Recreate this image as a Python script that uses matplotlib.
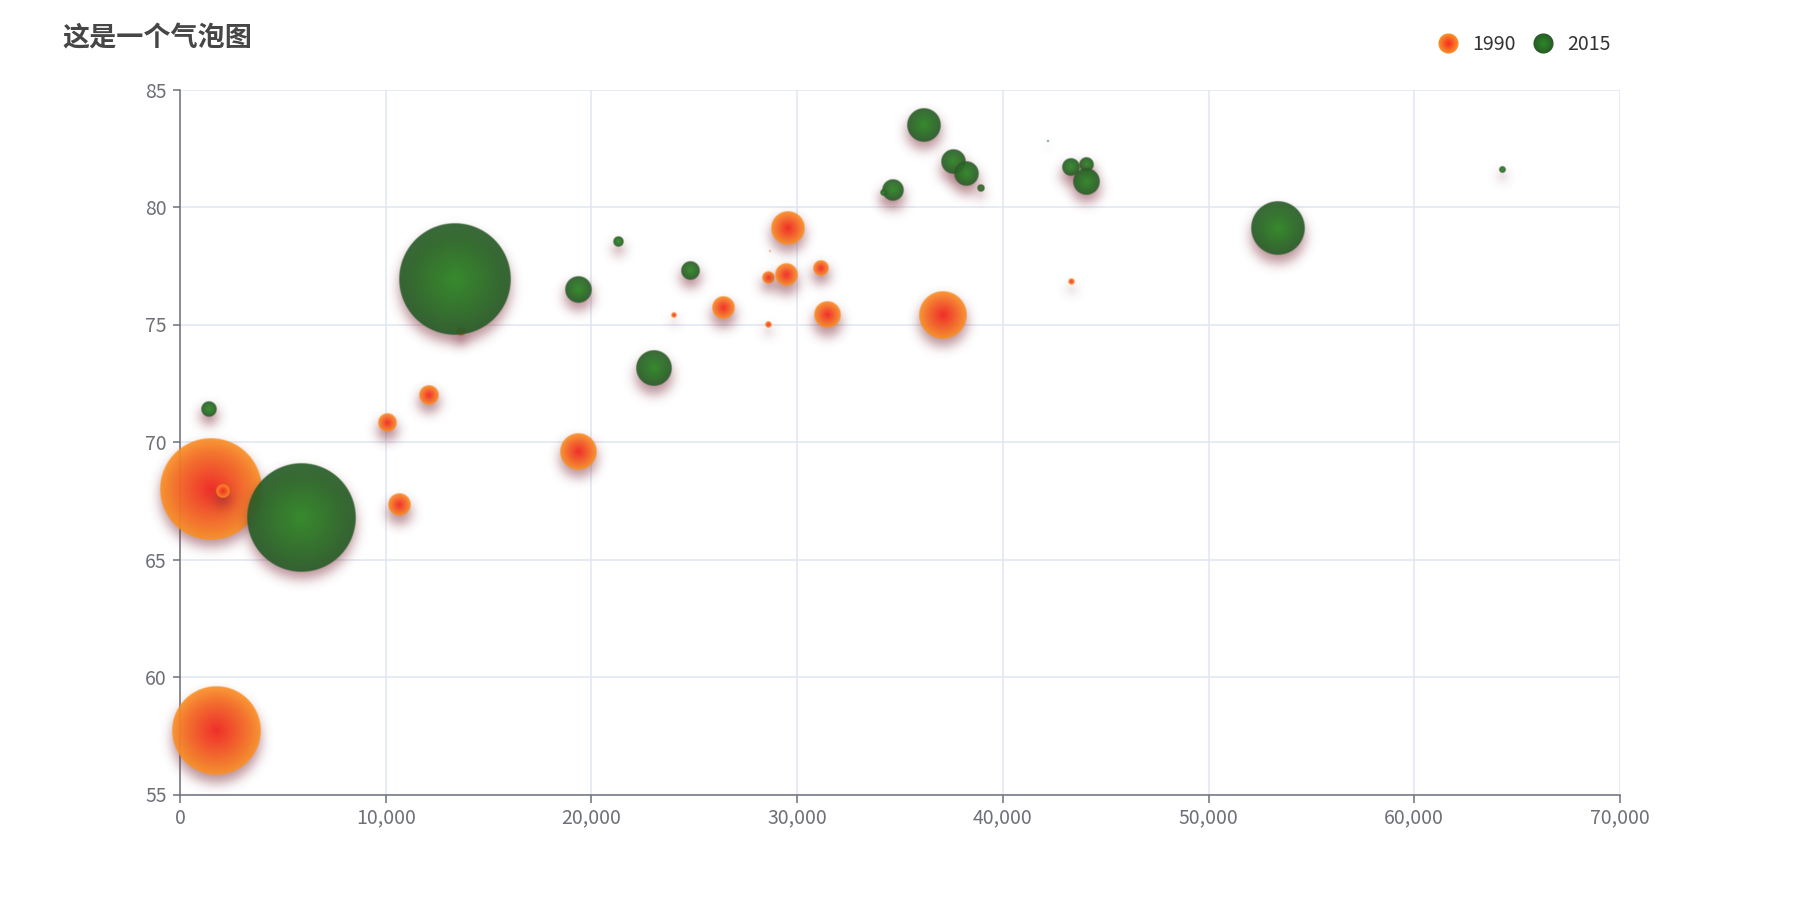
import math
import numpy as np
import matplotlib
matplotlib.use("Agg")
import matplotlib.pyplot as plt
from matplotlib.lines import Line2D
from matplotlib.legend_handler import HandlerBase
from matplotlib.ticker import FuncFormatter, MultipleLocator

plt.rcParams['font.family'] = ['Noto Sans CJK SC', 'DejaVu Sans']

# 数据: [GDP, 寿命, 人口]
countries = ['Australia', 'Canada', 'China', 'Cuba', 'Finland', 'France', 'Germany',
             'Iceland', 'India', 'Japan', 'North Korea', 'South Korea', 'New Zealand',
             'Norway', 'Poland', 'Russia', 'Turkey', 'United Kingdom', 'United States']
gdp_1990 = [28604, 31163, 1516, 13670, 28599, 29476, 31476, 28666, 1777, 29550,
            2076, 12087, 24021, 43296, 10088, 19349, 10670, 26424, 37062]
life_1990 = [77, 77.4, 68, 74.7, 75, 77.1, 75.4, 78.1, 57.7, 79.1,
             67.9, 72, 75.4, 76.8, 70.8, 69.6, 67.3, 75.7, 75.4]
pop_1990 = [17096869, 27662440, 1154605773, 10582082, 4986705, 56943299, 78958237,
            254830, 870601776, 122249285, 20194354, 42972254, 3397534, 4240375,
            38195258, 147568552, 53994605, 57110117, 252847810]
gdp_2015 = [44056, 43294, 13334, 21291, 38923, 37599, 44053, 42182, 5903, 36162,
            1390, 34644, 34186, 64304, 24787, 23038, 19360, 38225, 53354]
life_2015 = [81.8, 81.7, 76.9, 78.5, 80.8, 81.9, 81.1, 82.8, 66.8, 83.5,
             71.4, 80.7, 80.6, 81.6, 77.3, 73.13, 76.5, 81.4, 79.1]
pop_2015 = [23968973, 35939927, 1376048943, 11389562, 5503457, 64395345, 80688545,
            329425, 1311050527, 126573481, 25155317, 50293439, 4528526, 5210967,
            38611794, 143456918, 78665830, 64715810, 321773631]

series_names = ['1990', '2015']
# 渐变色 (中心, 边缘)
grad_1990 = ((0.96, 0.15, 0.13), (0.98, 0.57, 0.15))
grad_2015 = ((0.17, 0.54, 0.14), (0.16, 0.36, 0.16))
shadow_rgb = (120 / 255, 36 / 255, 50 / 255)

erf = np.vectorize(math.erf)


def draw_bubble(ax, x, y, pop, grad, z):
    R = math.sqrt(pop) / 5e2 * 1.5 / 2  # 半径(像素)
    px, py = ax.transData.transform((x, y))
    inv = ax.transData.inverted()

    # 阴影
    sig = 6.0
    sy = py - 7.5
    ext = R + 3 * sig + 2
    n = max(int(2 * ext), 31)
    g = np.linspace(-ext, ext, n)
    X, Y = np.meshgrid(g, g)
    r = np.hypot(X, Y)
    a = 0.5 * 0.5 * (1 + erf((R - r) / (sig * math.sqrt(2))))
    a *= min(1.0, (1 - math.exp(-(R + 0.8) ** 2 / (2 * sig ** 2))) / 0.6)
    img = np.zeros((n, n, 4))
    img[..., :3] = shadow_rgb
    img[..., 3] = a
    x0, y0 = inv.transform((px - ext, sy - ext))
    x1, y1 = inv.transform((px + ext, sy + ext))
    ax.imshow(img, extent=(x0, x1, y0, y1), aspect='auto', interpolation='bilinear',
              zorder=z, clip_on=False)

    # 气泡
    ext = R + 2
    n = max(int(4 * ext), 21)
    g = np.linspace(-ext, ext, n)
    X, Y = np.meshgrid(g, g)
    r = np.hypot(X, Y)
    t = np.clip(r / max(R, 0.5), 0, 1)[..., None]
    c0 = np.array(grad[0])
    c1 = np.array(grad[1])
    img = np.zeros((n, n, 4))
    img[..., :3] = c0 * (1 - t) + c1 * t
    img[..., 3] = 0.92 * np.clip(R - r + 0.5, 0, 1)
    x0, y0 = inv.transform((px - ext, py - ext))
    x1, y1 = inv.transform((px + ext, py + ext))
    ax.imshow(img, extent=(x0, x1, y0, y1), aspect='auto', interpolation='bilinear',
              zorder=z + 0.5, clip_on=False)


class GradHandler(HandlerBase):
    def __init__(self, grad, size):
        super().__init__()
        self.grad = grad
        self.size = size

    def create_artists(self, legend, orig_handle, xdescent, ydescent, width, height,
                       fontsize, trans):
        cx = width / 2 - xdescent
        cy = height / 2 - ydescent
        c0 = np.array(self.grad[0])
        c1 = np.array(self.grad[1])
        arts = []
        k = 14
        for i in range(k):
            t = 1 - i / k
            col = c0 * (1 - t) + c1 * t
            arts.append(Line2D([cx], [cy], marker='o', ms=self.size * (1 - i / k),
                               mfc=col, mec='none', ls='none', transform=trans))
        return arts


fig = plt.figure(figsize=(18, 9), dpi=100)
ax = fig.add_axes([180 / 1800, 1 - 794.5 / 900, 1440 / 1800, 705 / 900])
ax.set_xlim(0, 70000)
ax.set_ylim(55, 85)
ax.set_autoscale_on(False)

z = 3
for xs, ys, ps, grad in [(gdp_1990, life_1990, pop_1990, grad_1990),
                         (gdp_2015, life_2015, pop_2015, grad_2015)]:
    for x, y, p in zip(xs, ys, ps):
        draw_bubble(ax, x, y, p, grad, z)
        z += 1

ax.xaxis.set_major_locator(MultipleLocator(10000))
ax.yaxis.set_major_locator(MultipleLocator(5))
ax.xaxis.set_major_formatter(FuncFormatter(lambda v, _: f'{int(v):,}'))
ax.grid(True, color='#E0E6F1', linewidth=1.1, zorder=0)
ax.set_axisbelow(True)
for s in ['top', 'right']:
    ax.spines[s].set_visible(False)
for s in ['left', 'bottom']:
    ax.spines[s].set_color('#6E7079')
    ax.spines[s].set_linewidth(1.1)
    ax.spines[s].set_zorder(1)
ax.tick_params(colors='#6E7079', labelsize=14, length=5.4, width=1.1, pad=4)
for lab in ax.get_xticklabels() + ax.get_yticklabels():
    lab.set_color('#6E7079')

fig.text(62 / 1800, 1 - 38 / 900, '这是一个气泡图', fontsize=19.5, fontweight='bold',
         color='#464646', va='center', ha='left')

h1 = Line2D([], [])
h2 = Line2D([], [])
fig.legend([h1, h2], series_names, loc='center right',
           bbox_to_anchor=(1620 / 1800, 1 - 44 / 900), ncol=2, frameon=False,
           fontsize=14, labelcolor='#333333', handlelength=1.0, handletextpad=0.75,
           columnspacing=0.9, borderpad=0,
           handler_map={h1: GradHandler(grad_1990, 14.5), h2: GradHandler(grad_2015, 14.5)})

fig.savefig('out.png', dpi=100)
